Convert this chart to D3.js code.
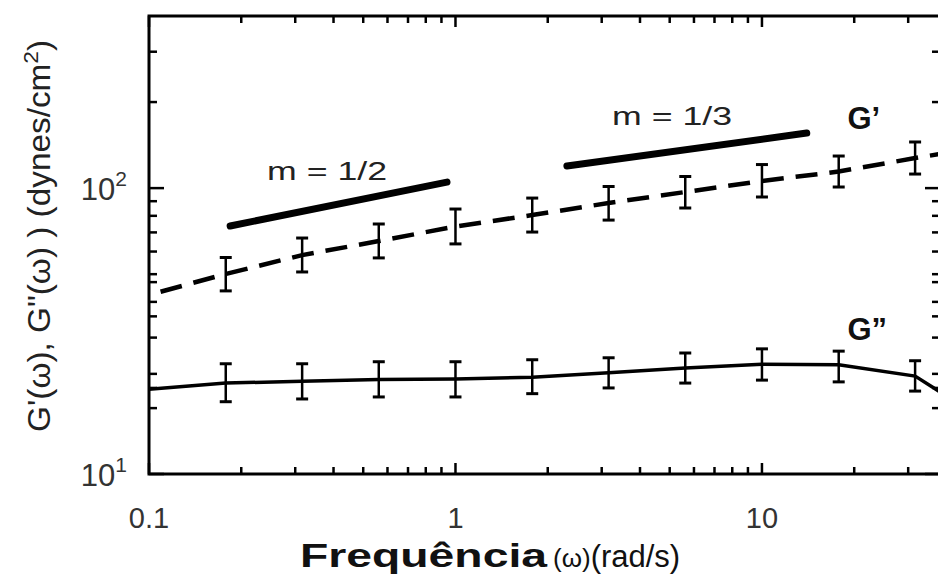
<!DOCTYPE html>
<html>
<head>
<meta charset="utf-8">
<script src="https://cdn.jsdelivr.net/npm/d3@7"></script>
<style>
body { margin: 0; background: #fff; }
svg { display: block; font-family: "Liberation Sans", Arial, sans-serif; }
</style>
</head>
<body>
<div id="chart"></div>
<script>
// measured frequencies (rad/s) of the points with error bars
var freq = [0.178, 0.316, 0.562, 1, 1.78, 3.16, 5.62, 10, 17.8, 31.6];

// G' error bar ends (dyn/cm2)
var gpLo = [43.7, 50.9, 57.0, 63.8, 70.2, 77.3, 85.2, 93.1, 100.9, 112.0];
var gpHi = [57.2, 66.9, 74.9, 84.5, 92.3, 101.3, 109.8, 120.9, 129.5, 145.0];

// G'' error bar ends
var gppLo = [17.9, 18.3, 18.6, 18.6, 19.1, 20.0, 20.8, 21.3, 21.0, 19.5];
var gppHi = [24.3, 24.3, 24.7, 24.7, 25.1, 25.5, 26.5, 27.4, 26.9, 24.9];

// the curves run from the left axis to past the cut right edge
var curveFreq = [0.1, 0.178, 0.316, 0.562, 1, 1.78, 3.16, 5.62, 10, 17.8, 31.6, 38];
var gpCurve  = [42.3, 50.1, 58.3, 65.3, 73.4, 80.5, 88.7, 96.9, 105.9, 114.3, 127.4, 131.6];
var gppCurve = [19.8, 20.8, 21.1, 21.4, 21.5, 21.8, 22.6, 23.5, 24.2, 24.1, 22.0, 19.4];

// slope guide lines
var halfX = [0.184, 0.938], halfY = [73.7, 105.0];
var thirdX = [2.31, 14.0], thirdY = [119.5, 155.8];

// axis ticks
var xMajor = [0.1, 1, 10];
var xMinor = [0.2, 0.3, 0.4, 0.5, 0.6, 0.7, 0.8, 0.9, 2, 3, 4, 5, 6, 7, 8, 9, 20, 30];
var yMajor = [10, 100];
var yMinor = [17, 20, 22.4, 30, 35.6, 40, 46.9, 50, 60, 70, 80, 90, 200, 300];

var width = 938, height = 575;

var x = d3.scaleLog().domain([0.1, 38.1]).range([149, 940]);
var y = d3.scaleLog().domain([10, 400]).range([474, 16]);

var svg = d3.select('#chart').append('svg')
  .attr('width', width)
  .attr('height', height);

// ticks on all four sides, pointing inward
function ticks(vals, len, w) {
  svg.append('g').selectAll('line').data(vals).enter().append('line')
    .attr('x1', d => x(d)).attr('x2', d => x(d))
    .attr('y1', y(10)).attr('y2', y(10) - len)
    .attr('stroke', '#000').attr('stroke-width', w);
  svg.append('g').selectAll('line').data(vals).enter().append('line')
    .attr('x1', d => x(d)).attr('x2', d => x(d))
    .attr('y1', y(400)).attr('y2', y(400) + len)
    .attr('stroke', '#000').attr('stroke-width', w);
}
function yticks(vals, len, w) {
  svg.append('g').selectAll('line').data(vals).enter().append('line')
    .attr('y1', d => y(d)).attr('y2', d => y(d))
    .attr('x1', x(0.1)).attr('x2', x(0.1) + len)
    .attr('stroke', '#000').attr('stroke-width', w);
  svg.append('g').selectAll('line').data(vals).enter().append('line')
    .attr('y1', d => y(d)).attr('y2', d => y(d))
    .attr('x1', x(38.1)).attr('x2', x(38.1) - len)
    .attr('stroke', '#000').attr('stroke-width', w);
}
ticks(xMajor, 11, 2.5);
ticks(xMinor, 7, 2.5);
yticks(yMajor, 15, 2.5);
yticks(yMinor, 8, 2.5);

// frame
svg.append('rect')
  .attr('x', x(0.1)).attr('y', y(400))
  .attr('width', x(38.1) - x(0.1)).attr('height', y(10) - y(400))
  .attr('fill', 'none').attr('stroke', '#000').attr('stroke-width', 3);

// tick labels
svg.append('g').selectAll('text').data(xMajor).enter().append('text')
  .attr('x', d => x(d)).attr('y', 528)
  .attr('text-anchor', 'middle')
  .attr('font-size', 29)
  .attr('fill', '#333')
  .text(d => d);

var yl = svg.append('g').selectAll('text').data(yMajor).enter().append('text')
  .attr('x', x(0.1) - 22).attr('y', d => y(d) + 12)
  .attr('text-anchor', 'end')
  .attr('font-size', 31)
  .attr('fill', '#333');
yl.append('tspan').text('10');
yl.append('tspan').attr('dy', -14).attr('font-size', 21).text(d => Math.log10(d));

// curves
var line = d3.line().x(d => x(d[0])).y(d => y(d[1]));

svg.append('path')
  .datum(curveFreq.map((f, i) => [f, gpCurve[i]]))
  .attr('d', line)
  .attr('fill', 'none').attr('stroke', '#000')
  .attr('stroke-width', 4.5)
  .attr('stroke-dasharray', '22,12')
  .attr('stroke-dashoffset', 22);

svg.append('path')
  .datum(curveFreq.map((f, i) => [f, gppCurve[i]]))
  .attr('d', line)
  .attr('fill', 'none').attr('stroke', '#000')
  .attr('stroke-width', 3.5);

// error bars
function errorBars(lo, hi) {
  var g = svg.append('g').selectAll('g').data(freq).enter().append('g');
  g.append('line')
    .attr('x1', d => x(d)).attr('x2', d => x(d))
    .attr('y1', (d, i) => y(lo[i])).attr('y2', (d, i) => y(hi[i]))
    .attr('stroke', '#000').attr('stroke-width', 2.5);
  g.append('line')
    .attr('x1', d => x(d) - 6).attr('x2', d => x(d) + 6)
    .attr('y1', (d, i) => y(lo[i])).attr('y2', (d, i) => y(lo[i]))
    .attr('stroke', '#000').attr('stroke-width', 3);
  g.append('line')
    .attr('x1', d => x(d) - 6).attr('x2', d => x(d) + 6)
    .attr('y1', (d, i) => y(hi[i])).attr('y2', (d, i) => y(hi[i]))
    .attr('stroke', '#000').attr('stroke-width', 3);
}
errorBars(gpLo, gpHi);
errorBars(gppLo, gppHi);

// slope guides
[[halfX, halfY], [thirdX, thirdY]].forEach(s => {
  svg.append('line')
    .attr('x1', x(s[0][0])).attr('y1', y(s[1][0]))
    .attr('x2', x(s[0][1])).attr('y2', y(s[1][1]))
    .attr('stroke', '#000').attr('stroke-width', 7)
    .attr('stroke-linecap', 'round');
});

// annotations
svg.append('text').attr('x', x(0.381)).attr('y', y(106.7))
  .attr('text-anchor', 'middle').attr('font-size', 26).attr('fill', '#222')
  .attr('textLength', 120).attr('lengthAdjust', 'spacingAndGlyphs')
  .text('m = 1/2');
svg.append('text').attr('x', x(5.09)).attr('y', y(166.3))
  .attr('text-anchor', 'middle').attr('font-size', 26).attr('fill', '#222')
  .attr('textLength', 120).attr('lengthAdjust', 'spacingAndGlyphs')
  .text('m = 1/3');
svg.append('text').attr('x', x(19)).attr('y', y(161))
  .attr('font-size', 31).attr('font-weight', 'bold').attr('fill', '#111')
  .text('G\u2019');
svg.append('text').attr('x', x(19)).attr('y', y(29.5))
  .attr('font-size', 31).attr('font-weight', 'bold').attr('fill', '#111')
  .text('G\u201D');

// axis titles
var xt = svg.append('text').attr('x', 300).attr('y', 567).attr('fill', '#111');
xt.append('tspan').attr('font-size', 34).attr('font-weight', 'bold')
  .attr('textLength', 247).attr('lengthAdjust', 'spacingAndGlyphs')
  .text('Frequência');
xt.append('tspan').attr('dx', 6).attr('font-size', 26).text('(ω)');
xt.append('tspan').attr('font-size', 31).text('(rad/s)');

var yt = svg.append('text')
  .attr('transform', 'translate(50,236) rotate(-90)')
  .attr('text-anchor', 'middle')
  .attr('font-size', 31).attr('fill', '#222')
  .attr('textLength', 392).attr('lengthAdjust', 'spacingAndGlyphs');
yt.append('tspan').text('G\'(ω), G"(ω) ) (dynes/cm');
yt.append('tspan').attr('dy', -12).attr('font-size', 21).text('2');
yt.append('tspan').attr('dy', 12).text(')');
</script>
</body>
</html>
